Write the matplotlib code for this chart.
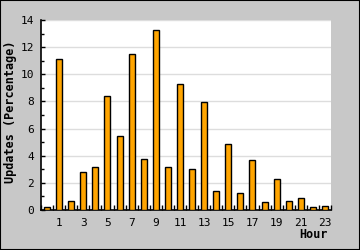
import matplotlib.pyplot as plt
from matplotlib.patches import Rectangle
import numpy as np

horas = list(range(24))
valores = [0.22, 11.15, 0.64, 2.8, 3.17, 8.42, 5.46, 11.52, 3.78, 13.3, 3.17, 9.3,
           3.04, 7.97, 1.39, 4.88, 1.24, 3.7, 0.57, 2.3, 0.64, 0.89, 0.23, 0.3]
etiquetas_x = [str(h) for h in horas if h % 2 == 1]

plt.rcParams['font.family'] = ['DejaVu Sans Mono']

fig = plt.figure(figsize=(3.6, 2.5), dpi=100)
fig.patch.set_facecolor("#c8c8c8")
ax = fig.add_axes([41/360, 1 - 210/250, 290/360, 190/250])
ax.set_facecolor("white")

ax.bar(horas, valores, width=0.5, color="#ffa500", edgecolor="black", linewidth=1, zorder=3)

ax.set_xlim(-0.5, 23.5)
ax.set_ylim(0, 14)

# cuadricula horizontal
ax.set_yticks(range(0, 15, 2))
ax.set_yticks(range(1, 15, 2), minor=True)
ax.grid(axis="y", which="major", color="#dddddd", linewidth=1, zorder=0)

ax.set_xticks([h for h in horas if h % 2 == 1])
ax.set_xticklabels(etiquetas_x)
ax.set_xticks(np.arange(-0.5, 24, 1), minor=True)

ax.tick_params(axis="x", which="major", length=0, labelsize=8, pad=6)
ax.tick_params(axis="x", which="minor", direction="in", length=3.5, width=1)
ax.tick_params(axis="y", which="major", direction="in", length=3, width=1, labelsize=8, pad=5)
ax.tick_params(axis="y", which="minor", direction="in", length=2, width=1)

for s in ["top", "right"]:
    ax.spines[s].set_visible(False)
for s in ["left", "bottom"]:
    ax.spines[s].set_linewidth(1.2)

fig.text(11/360, 1 - 112/250, "Updates (Percentage)", rotation=90, ha="center", va="center",
         fontsize=8.5, fontweight="bold")
fig.text(328/360, 1 - 235/250, "Hour", ha="right", va="center", fontsize=8.5, fontweight="bold")

fig.patches.append(Rectangle((0, 0), 1, 1, transform=fig.transFigure, fill=False,
                             edgecolor="black", linewidth=1.5))

fig.savefig("out.png", dpi=100, facecolor=fig.get_facecolor())
